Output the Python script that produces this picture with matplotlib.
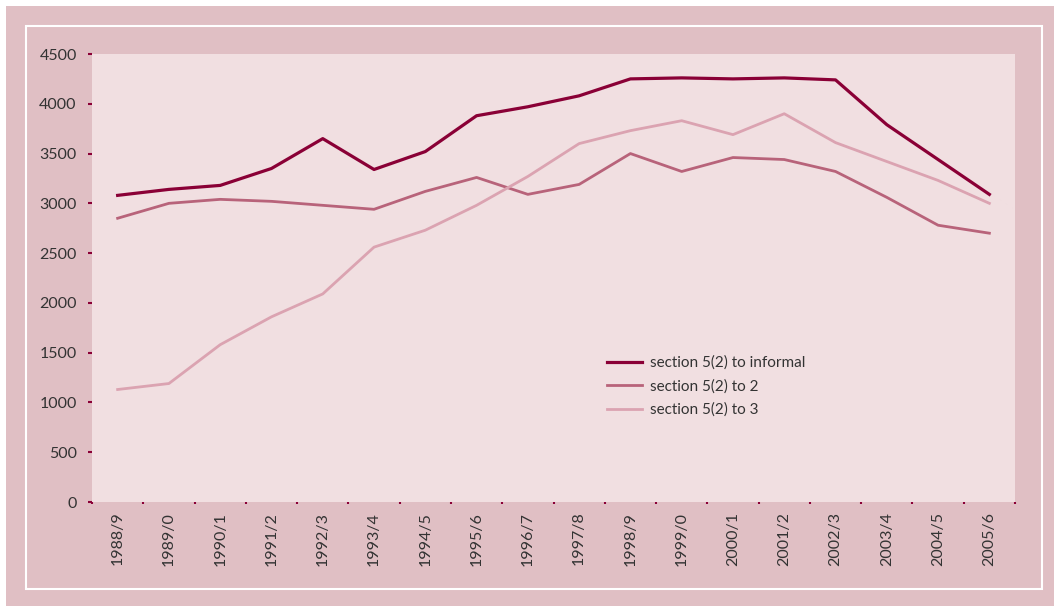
import matplotlib.pyplot as plt
from matplotlib.patches import Rectangle

years = ['1988/9', '1989/0', '1990/1', '1991/2', '1992/3', '1993/4', '1994/5', '1995/6', '1996/7',
         '1997/8', '1998/9', '1999/0', '2000/1', '2001/2', '2002/3', '2003/4', '2004/5', '2005/6']
informal = [3080, 3140, 3180, 3350, 3650, 3340, 3520, 3880, 3970,
            4080, 4250, 4260, 4250, 4260, 4240, 3790, 3440, 3090]
to_2 = [2850, 3000, 3040, 3020, 2980, 2940, 3120, 3260, 3090,
        3190, 3500, 3320, 3460, 3440, 3320, 3060, 2780, 2700]
to_3 = [1130, 1190, 1580, 1860, 2090, 2560, 2730, 2980, 3270,
        3600, 3730, 3830, 3690, 3900, 3610, 3420, 3230, 3000]

plt.rcParams['font.family'] = ['Lato', 'DejaVu Sans']

W, H = 1054, 606
fig = plt.figure(figsize=(W / 100, H / 100), dpi=100, facecolor='white')
# outer pink panel and white frame
fig.patches.append(Rectangle((6 / W, 0), 1 - 6 / W, 1 - 6 / H, transform=fig.transFigure,
                             facecolor='#e0bfc4', edgecolor='none', zorder=-2))
fig.patches.append(Rectangle((26 / W, 1 - 589 / H), (1042 - 26) / W, (589 - 26) / H,
                             transform=fig.transFigure, facecolor='none',
                             edgecolor='white', linewidth=1.5, zorder=-1))

ax = fig.add_axes([92 / W, 1 - 502 / H, (1015 - 92) / W, (502 - 54) / H])
ax.set_facecolor('#f1dfe1')
for s in ax.spines.values():
    s.set_visible(False)

x = list(range(len(years)))
ax.plot(x, informal, color='#8a0036', lw=2.3, label='section 5(2) to informal')
ax.plot(x, to_2, color='#b8637a', lw=2.0, label='section 5(2) to 2')
ax.plot(x, to_3, color='#dba3b1', lw=2.0, label='section 5(2) to 3')

ax.set_xlim(-0.5, len(years) - 0.5)
ax.set_ylim(0, 4500)
ax.set_yticks(range(0, 4501, 500))
ax.tick_params(axis='y', length=3, width=1.5, color='#8a0036', pad=8,
               labelsize=11.5, labelcolor='#333333')

ax.set_xticks([i + 0.5 for i in range(-1, len(years))], minor=False)
ax.set_xticklabels([])
ax.tick_params(axis='x', which='major', length=1.5, width=1.5, color='#8a0036', direction='out')
ax.set_xticks(x, minor=True)
ax.set_xticklabels(years, minor=True, rotation=90, fontsize=11.5, color='#333333')
ax.tick_params(axis='x', which='minor', length=0, pad=7)

ax.legend(loc='upper left', bbox_to_anchor=(0.543, 0.357), frameon=False, fontsize=11,
          handlelength=2.3, handletextpad=0.5, labelspacing=0.6, labelcolor='#333333')

fig.savefig('out.png', dpi=100, facecolor=fig.get_facecolor())
